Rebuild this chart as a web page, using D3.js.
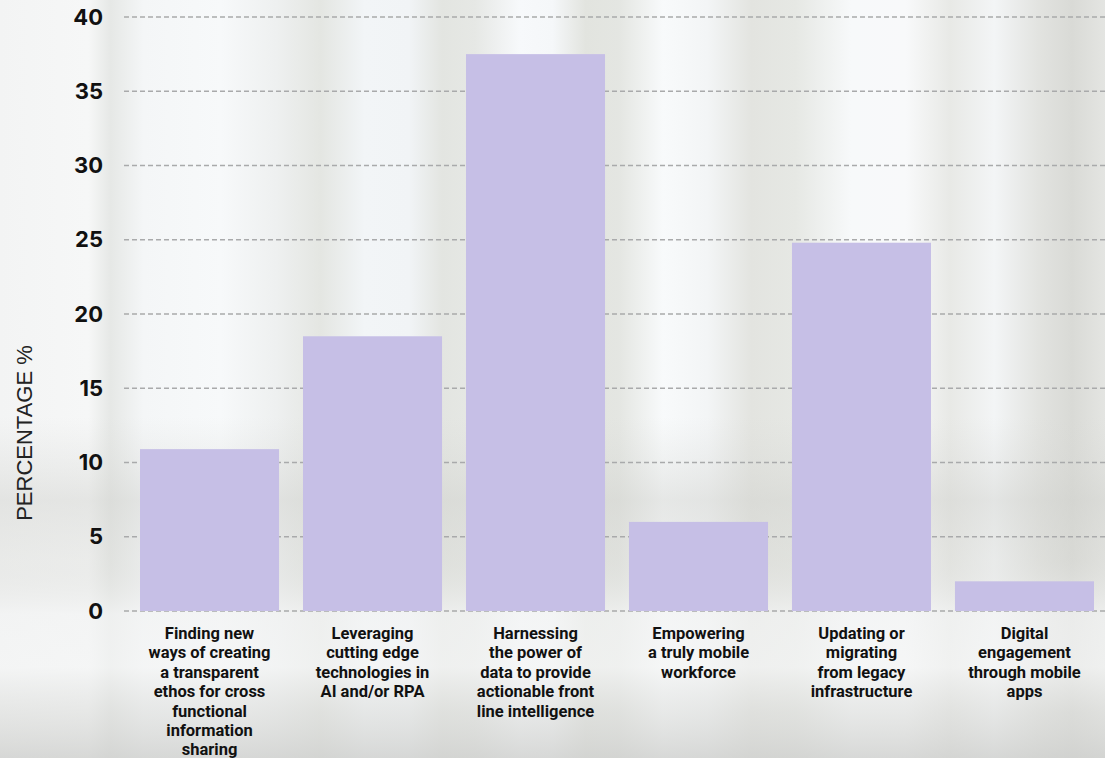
<!DOCTYPE html>
<html>
<head>
<meta charset="utf-8">
<script src="https://cdn.jsdelivr.net/npm/d3@7"></script>
<style>
  html, body { margin: 0; padding: 0; background: #eef0f0; }
  svg { display: block; }
</style>
</head>
<body>
<div id="viz"></div>
<script>
// chart data
var categories = [
  ['Finding new', 'ways of creating', 'a transparent', 'ethos for cross', 'functional', 'information', 'sharing'],
  ['Leveraging', 'cutting edge', 'technologies in', 'AI and/or RPA'],
  ['Harnessing', 'the power of', 'data to provide', 'actionable front', 'line intelligence'],
  ['Empowering', 'a truly mobile', 'workforce'],
  ['Updating or', 'migrating', 'from legacy', 'infrastructure'],
  ['Digital', 'engagement', 'through mobile', 'apps']
]
var values = [10.9, 18.5, 37.5, 6.0, 24.8, 2.0]
var yTicks = [0, 5, 10, 15, 20, 25, 30, 35, 40]
var yTitle = 'PERCENTAGE %'

var W = 1105, H = 758

var svg = d3.select('#viz').append('svg')
  .attr('width', W)
  .attr('height', H)

// blurred photo-ish background
var defs = svg.append('defs')
var stripes = defs.append('linearGradient').attr('id', 'stripes')
  .attr('x1', 0).attr('x2', 1).attr('y1', 0).attr('y2', 0)
var stripeStops = [
  [0, '#f3f4f4'], [0.08, '#f6f7f7'], [0.1, '#e6e8e6'], [0.13, '#f4f6f7'],
  [0.2, '#f7f9fa'], [0.25, '#eef0f0'], [0.29, '#e4e6e2'], [0.33, '#f2f5f7'],
  [0.37, '#f1f4f6'], [0.4, '#e3e5e1'], [0.43, '#e6e8e5'], [0.47, '#f7f9fb'],
  [0.5, '#f5f7f9'], [0.53, '#e2e4df'], [0.56, '#e4e6e2'], [0.6, '#f8fafb'],
  [0.64, '#f3f5f6'], [0.68, '#e3e4e0'], [0.72, '#e6e8e4'], [0.77, '#f7f9fa'],
  [0.82, '#f8f9fa'], [0.86, '#e8e9e6'], [0.9, '#f3f5f6'], [0.94, '#e2e3e0'],
  [0.97, '#d9dad6'], [1, '#e4e5e2']
]
stripes.selectAll('stop').data(stripeStops).enter().append('stop')
  .attr('offset', function(d) { return d[0] })
  .attr('stop-color', function(d) { return d[1] })

var shade = defs.append('linearGradient').attr('id', 'shade')
  .attr('x1', 0).attr('x2', 0).attr('y1', 0).attr('y2', 1)
var shadeStops = [
  [0, '#ffffff', 0], [0.55, '#d8d9d6', 0], [0.66, '#cfd0cc', 0.45],
  [0.74, '#d6d7d3', 0.35], [0.81, '#f2f3f3', 0.7], [0.88, '#f4f5f5', 0.7],
  [0.94, '#dcdddb', 0.6], [1, '#cfd0ce', 0.8]
]
shade.selectAll('stop').data(shadeStops).enter().append('stop')
  .attr('offset', function(d) { return d[0] })
  .attr('stop-color', function(d) { return d[1] })
  .attr('stop-opacity', function(d) { return d[2] })

svg.append('rect').attr('width', W).attr('height', H).attr('fill', 'url(#stripes)')
svg.append('rect').attr('width', W).attr('height', H).attr('fill', 'url(#shade)')

// scales
var y = d3.scaleLinear().domain([0, 40]).range([611, 17])
var x = d3.scaleBand()
  .domain(d3.range(categories.length))
  .range([140, 1094])
  .paddingInner(0.147)
  .paddingOuter(0)

// gridlines
svg.append('g')
  .selectAll('line')
  .data(yTicks)
  .enter()
  .append('line')
  .attr('x1', 124)
  .attr('x2', W)
  .attr('y1', function(d) { return y(d) })
  .attr('y2', function(d) { return y(d) })
  .attr('stroke', '#a9aaab')
  .attr('stroke-width', 1.3)
  .attr('stroke-dasharray', '5,3')

// y axis labels
var yAxis = svg.append('g')
  .attr('transform', 'translate(103,0)')
  .call(d3.axisLeft(y).tickValues(yTicks).tickSize(0).tickPadding(0))
yAxis.select('.domain').remove()
yAxis.selectAll('text')
  .attr('font-family', 'Inter, Roboto, sans-serif')
  .attr('font-weight', 700)
  .attr('font-size', 22)
  .attr('fill', '#111')

// bars
svg.append('g')
  .selectAll('rect')
  .data(values)
  .enter()
  .append('rect')
  .attr('x', function(d, i) { return x(i) })
  .attr('y', function(d) { return y(d) })
  .attr('width', x.bandwidth())
  .attr('height', function(d) { return y(0) - y(d) })
  .attr('fill', '#c6bfe6')

// category labels
var xAxis = svg.append('g')
  .attr('transform', 'translate(0,' + y(0) + ')')
  .call(d3.axisBottom(x).tickSize(0).tickFormat(''))
xAxis.select('.domain').remove()
xAxis.selectAll('.tick').each(function(i) {
  var t = d3.select(this).append('text')
    .attr('text-anchor', 'middle')
    .attr('font-family', 'Roboto, Inter, sans-serif')
    .attr('font-weight', 700)
    .attr('font-size', 16.5)
    .attr('fill', '#111')
  t.selectAll('tspan')
    .data(categories[i])
    .enter()
    .append('tspan')
    .attr('x', 0)
    .attr('y', function(d, k) { return 28 + k * 19.4 })
    .text(function(d) { return d })
})

// y title
svg.append('text')
  .attr('transform', 'translate(32,433)rotate(-90)')
  .attr('text-anchor', 'middle')
  .attr('font-family', 'Liberation Sans, Arial, sans-serif')
  .attr('font-size', 22)
  .attr('fill', '#222')
  .text(yTitle)
</script>
</body>
</html>
